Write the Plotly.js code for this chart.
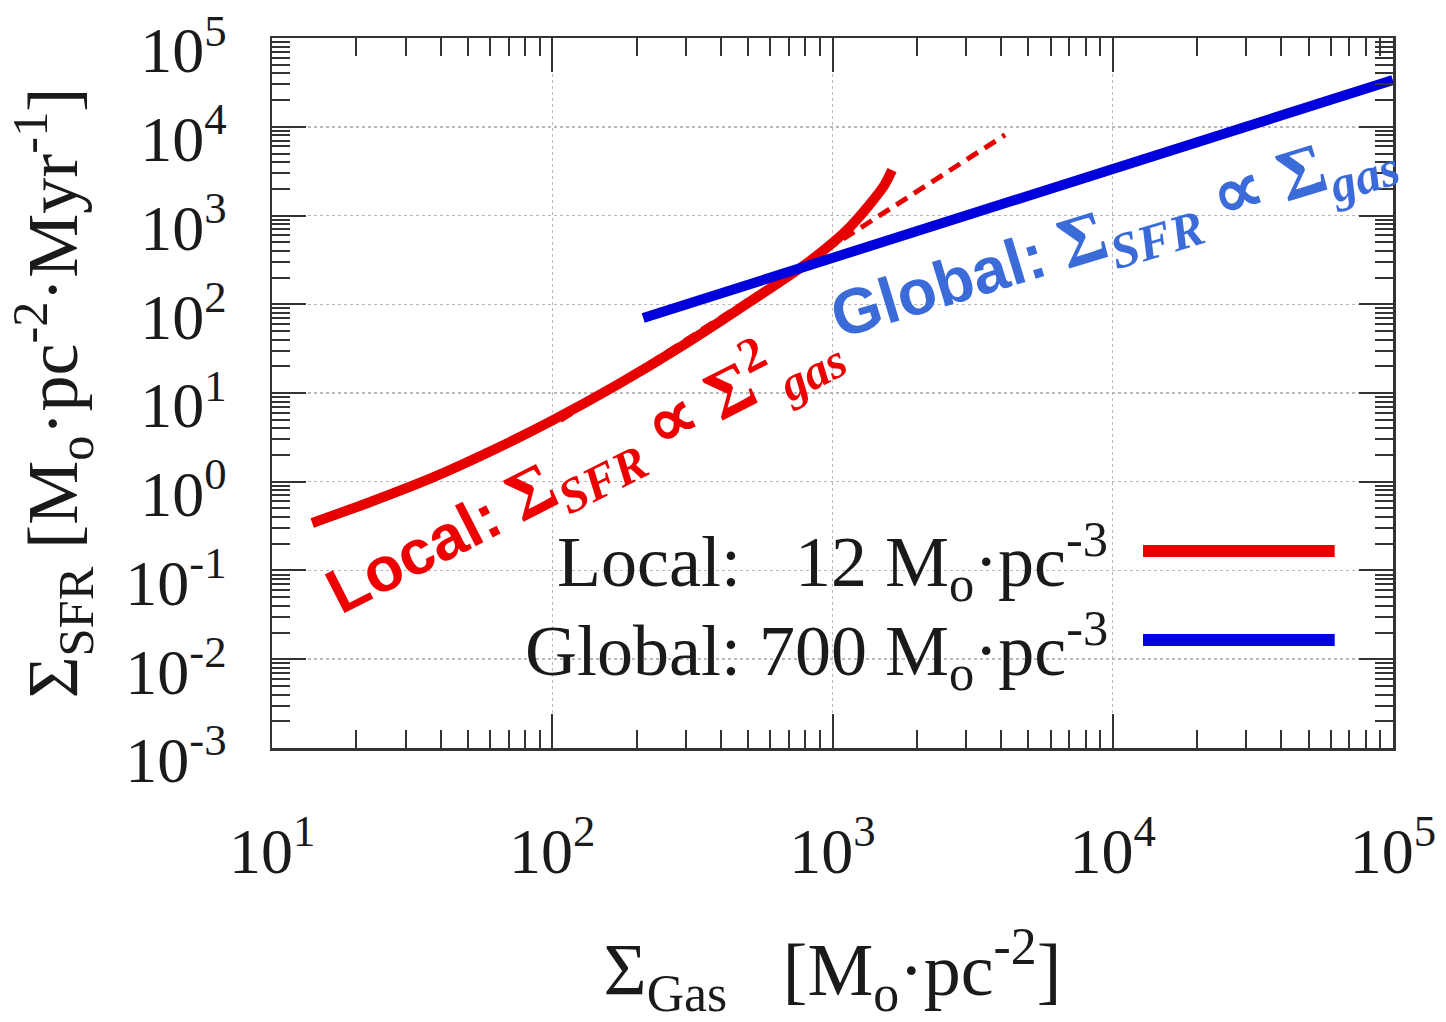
<!DOCTYPE html>
<html>
<head>
<meta charset="utf-8">
<script src="https://cdn.plot.ly/plotly-3.0.1.min.js"></script>
<style>
  html, body { margin: 0; padding: 0; background: #ffffff; }
  #chart { width: 1446px; height: 1022px; }
</style>
</head>
<body>
<div id="chart"></div>
<script>
// Star-formation law: surface density of SFR vs. gas surface density (log-log)

// Local model curve (rho = 12 Mo/pc^3)
const gasLocal = [13.9, 21.8, 37.5, 65.1, 98.2, 170, 293, 508, 831, 1155, 1514, 1631];
const sfrLocal = [0.343, 0.573, 1.12, 2.48, 4.75, 12.3, 34.5, 107, 308, 744, 2078, 3256];

// Quadratic reference line (Sigma_SFR ~ Sigma_gas^2)
const gasQuad = [107, 4130];
const sfrQuad = [4.9, 8100];

// Global model line (rho = 700 Mo/pc^3)
const gasGlobal = [211, 100000];
const sfrGlobal = [70, 33600];

// Series names and key labels
const seriesNames = ['Local', 'Global'];
const legendLabels = [
  'Local:\u00A0\u00A0\u00A012 M<sub>o</sub>·pc<sup>-3</sup>',
  'Global: 700 M<sub>o</sub>·pc<sup>-3</sup>'
];

// Axis ticks
const xTickVals = [1e1, 1e2, 1e3, 1e4, 1e5];
const xTickText = ['10<sup>1</sup>', '10<sup>2</sup>', '10<sup>3</sup>', '10<sup>4</sup>', '10<sup>5</sup>'];
const yTickVals = [1e-3, 1e-2, 1e-1, 1e0, 1e1, 1e2, 1e3, 1e4, 1e5];
const yTickText = ['10<sup>-3</sup>', '10<sup>-2</sup>', '10<sup>-1</sup>', '10<sup>0</sup>', '10<sup>1</sup>',
                   '10<sup>2</sup>', '10<sup>3</sup>', '10<sup>4</sup>', '10<sup>5</sup>'];
const minorMultipliers = [2, 3, 4, 5, 6, 7, 8, 9];

function minorTicks(decades) {
  const out = [];
  for (let i = 0; i < decades.length - 1; i++) {
    for (const m of minorMultipliers) out.push(m * decades[i]);
  }
  return out;
}

const RED = '#e60000';
const BLUE = '#0000dc';
const FRAME = '#333333';
const SERIF = 'Liberation Serif, Times New Roman, serif';
const SANS = 'Liberation Sans, Arial, sans-serif';
const X_RANGE = [0.9995, 5.0005];
const Y_RANGE = [-3.0005, 5.0005];

const traces = [
  {
    x: gasQuad, y: sfrQuad, type: 'scatter', mode: 'lines',
    line: { color: RED, width: 5, dash: '13px,8px' },
    showlegend: false, hoverinfo: 'skip'
  },
  {
    x: gasLocal, y: sfrLocal, type: 'scatter', mode: 'lines', name: seriesNames[0],
    line: { color: RED, width: 10, shape: 'spline', smoothing: 0.7 },
    showlegend: false
  },
  {
    x: gasGlobal, y: sfrGlobal, type: 'scatter', mode: 'lines', name: seriesNames[1],
    line: { color: BLUE, width: 10 },
    showlegend: false
  },
  // carries the minor-tick overlay axes
  { x: [], y: [], xaxis: 'x2', yaxis: 'y2', type: 'scatter', mode: 'lines', showlegend: false, hoverinfo: 'skip' }
];

const majorAxis = {
  type: 'log',
  showline: true, linecolor: FRAME, linewidth: 2.5, mirror: 'allticks',
  ticks: 'inside', ticklen: 34, tickwidth: 2, tickcolor: FRAME,
  showgrid: true, gridcolor: '#b8b8b8', griddash: 'dot', gridwidth: 1.5,
  zeroline: false, ticklabeloverflow: 'allow',
  tickfont: { family: SERIF, size: 64, color: '#1a1a1a' }
};

const minorAxis = {
  type: 'log',
  showline: false, mirror: 'ticks',
  ticks: 'inside', ticklen: 18, tickwidth: 2, tickcolor: FRAME,
  showgrid: false, zeroline: false, showticklabels: false
};

const layout = {
  width: 1446, height: 1022,
  margin: { l: 272, r: 53, t: 38, b: 274 },
  paper_bgcolor: '#ffffff', plot_bgcolor: '#ffffff',
  showlegend: false,
  xaxis: Object.assign({}, majorAxis, {
    range: X_RANGE, tickmode: 'array', tickvals: xTickVals, ticktext: xTickText,
    ticklabelstandoff: 46,
    title: {
      text: 'Σ<sub>Gas</sub>\u00A0\u00A0\u00A0[M<sub>o</sub>·pc<sup>-2</sup>]',
      font: { family: SERIF, size: 74, color: '#1a1a1a' },
      standoff: 62
    }
  }),
  yaxis: Object.assign({}, majorAxis, {
    range: Y_RANGE, tickmode: 'array', tickvals: yTickVals, ticktext: yTickText,
    ticklabelstandoff: 30, ticklabelshift: 12,
    title: {
      text: 'Σ<sub>SFR</sub> [M<sub>o</sub>·pc<sup>-2</sup>·Myr<sup>-1</sup>]',
      font: { family: SERIF, size: 72, color: '#1a1a1a' },
      standoff: 24
    }
  }),
  xaxis2: Object.assign({}, minorAxis, {
    range: X_RANGE, overlaying: 'x', anchor: 'y2', side: 'bottom',
    tickmode: 'array', tickvals: minorTicks(xTickVals)
  }),
  yaxis2: Object.assign({}, minorAxis, {
    range: Y_RANGE, overlaying: 'y', anchor: 'x2', side: 'left',
    tickmode: 'array', tickvals: minorTicks(yTickVals)
  }),
  shapes: [
    // opaque key box
    { type: 'rect', xref: 'paper', yref: 'paper', x0: 0.165, x1: 1, y0: 0.075, y1: 0.342,
      fillcolor: '#ffffff', line: { width: 0 }, layer: 'between' },
    // key line samples
    { type: 'line', xref: 'paper', yref: 'paper', x0: 0.777, x1: 0.948, y0: 0.2775, y1: 0.2775,
      line: { color: RED, width: 12 } },
    { type: 'line', xref: 'paper', yref: 'paper', x0: 0.777, x1: 0.948, y0: 0.152, y1: 0.152,
      line: { color: BLUE, width: 12 } }
  ],
  annotations: [
    { xref: 'paper', yref: 'paper', x: 0.7475, y: 0.262, xanchor: 'right', yanchor: 'middle',
      text: legendLabels[0], showarrow: false, font: { family: SERIF, size: 72, color: '#1a1a1a' } },
    { xref: 'paper', yref: 'paper', x: 0.7475, y: 0.137, xanchor: 'right', yanchor: 'middle',
      text: legendLabels[1], showarrow: false, font: { family: SERIF, size: 72, color: '#1a1a1a' } },
    { xref: 'paper', yref: 'paper', x: 0.276, y: 0.398, xanchor: 'center', yanchor: 'middle',
      textangle: -27, showarrow: false,
      font: { family: SANS, size: 63, color: '#ee0000' },
      text: '<b>Local: </b><span style="font-family:Liberation Serif;font-size:70px"><b>Σ</b><sub><b><i>SFR</i></b></sub> <b>∝</b> <b>Σ</b><sup><b>2</b></sup><sub><b><i>gas</i></b></sub></span>' },
    { xref: 'paper', yref: 'paper', x: 0.751, y: 0.722, xanchor: 'center', yanchor: 'middle',
      textangle: -17, showarrow: false,
      font: { family: SANS, size: 64, color: '#3a6bd8' },
      text: '<b>Global: </b><span style="font-family:Liberation Serif;font-size:72px"><b>Σ</b><sub><b><i>SFR</i></b></sub> <b>∝</b> <b>Σ</b><sub><b><i>gas</i></b></sub></span>' }
  ]
};

Plotly.newPlot('chart', traces, layout, { staticPlot: true, displayModeBar: false });
</script>
</body>
</html>
